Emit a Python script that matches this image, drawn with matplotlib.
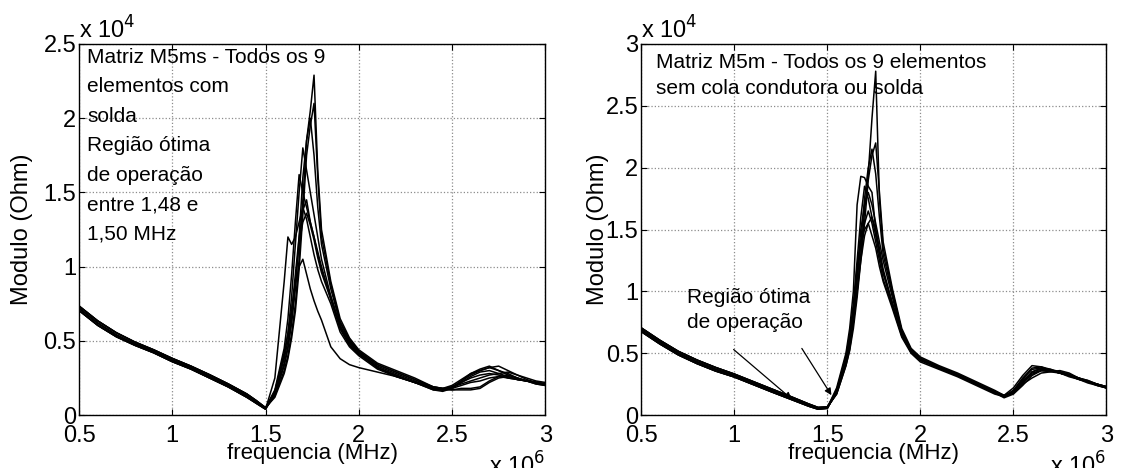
import matplotlib
matplotlib.use("Agg")
import matplotlib.pyplot as plt
from matplotlib.ticker import FuncFormatter
import numpy as np

plt.rcParams['font.family'] = ['Liberation Sans', 'DejaVu Sans']
plt.rcParams['font.size'] = 15

# frequencia (MHz), grade comum a todas as curvas
freq = [0.50, 0.60, 0.70, 0.80, 0.90, 1.00, 1.10, 1.20, 1.30, 1.40, 1.45, 1.50,
        1.55, 1.60, 1.62, 1.64, 1.66, 1.68, 1.70, 1.72, 1.74, 1.76, 1.78, 1.80,
        1.85, 1.90, 1.95, 2.00, 2.10, 2.20, 2.30, 2.40, 2.45, 2.50, 2.55, 2.60,
        2.65, 2.70, 2.75, 2.80, 2.85, 2.90, 2.95, 3.00]

# trecho antes da ressonancia (kOhm), 0.5 a 1.5 MHz
ms_base_a = [7.20, 6.20, 5.40, 4.80, 4.30, 3.70, 3.20, 2.60, 2.00, 1.30, 0.90, 0.45]
ms_base_b = [7.35, 6.35, 5.55, 4.92, 4.40, 3.82, 3.30, 2.72, 2.10, 1.42, 0.98, 0.50]
ms_base_c = [7.05, 6.05, 5.28, 4.70, 4.20, 3.60, 3.10, 2.50, 1.90, 1.20, 0.80, 0.40]
m_base_a = [6.90, 5.90, 5.00, 4.30, 3.70, 3.20, 2.60, 2.00, 1.40, 0.80, 0.55, 0.60]
m_base_b = [7.05, 6.05, 5.15, 4.45, 3.85, 3.32, 2.72, 2.12, 1.52, 0.90, 0.62, 0.66]
m_base_c = [6.75, 5.75, 4.86, 4.16, 3.56, 3.08, 2.48, 1.88, 1.30, 0.72, 0.48, 0.55]

# Matriz M5ms (kOhm), de 1.55 a 3.0 MHz
ms1 = [1.3, 3.0, 4.0, 5.5, 7.5, 10.5, 14.5, 18.5, 20.5, 22.9, 16.5, 12.5, 9.0, 6.5, 5.2, 4.4, 3.5, 3.0, 2.5, 1.9, 1.8, 2.0, 2.4, 2.8, 3.0, 3.2, 3.3, 3.0, 2.7, 2.5, 2.3, 2.2]
ms2 = [1.2, 2.8, 3.8, 5.2, 7.0, 9.8, 13.5, 17.5, 19.5, 21.0, 16.0, 12.0, 8.8, 6.3, 5.1, 4.3, 3.4, 2.9, 2.4, 1.8, 1.7, 1.9, 2.2, 2.5, 2.7, 2.8, 2.7, 2.5, 2.4, 2.3, 2.2, 2.1]
ms3 = [1.4, 3.3, 4.5, 6.2, 8.5, 12.0, 16.0, 18.5, 20.0, 17.5, 14.0, 11.5, 8.5, 6.2, 5.0, 4.3, 3.4, 2.9, 2.4, 1.9, 1.8, 1.9, 2.1, 2.3, 2.5, 2.7, 2.8, 2.9, 2.7, 2.4, 2.2, 2.1]
ms4 = [1.6, 4.0, 5.5, 8.0, 11.5, 15.0, 18.0, 16.5, 15.0, 13.5, 12.0, 10.5, 8.0, 6.0, 4.9, 4.2, 3.3, 2.8, 2.3, 1.8, 1.7, 1.8, 2.3, 2.8, 3.1, 3.3, 3.0, 2.7, 2.5, 2.3, 2.2, 2.1]
ms5 = [1.7, 4.5, 6.5, 9.5, 13.0, 16.2, 15.0, 14.0, 13.0, 12.0, 11.0, 10.0, 7.8, 5.8, 4.7, 4.1, 3.2, 2.7, 2.2, 1.7, 1.6, 1.8, 2.2, 2.6, 2.9, 3.0, 2.8, 2.6, 2.4, 2.3, 2.2, 2.0]
ms6 = [2.5, 9.0, 12.0, 11.5, 12.0, 13.0, 14.0, 13.2, 12.0, 10.8, 9.8, 9.0, 7.5, 5.6, 4.6, 4.0, 3.1, 2.6, 2.2, 1.7, 1.7, 1.9, 2.3, 2.7, 3.0, 3.2, 3.0, 2.8, 2.5, 2.3, 2.1, 2.0]
ms7 = [1.5, 3.8, 5.0, 7.0, 9.5, 12.0, 13.8, 14.5, 13.0, 12.0, 10.8, 9.8, 8.0, 6.0, 4.9, 4.2, 3.2, 2.7, 2.2, 1.8, 1.7, 1.8, 2.0, 2.2, 2.3, 2.5, 2.6, 2.5, 2.4, 2.3, 2.1, 2.0]
ms8 = [1.4, 3.5, 4.6, 6.5, 9.0, 11.5, 13.0, 13.6, 12.8, 11.8, 10.6, 9.6, 7.8, 5.9, 4.8, 4.1, 3.2, 2.6, 2.2, 1.8, 1.7, 1.7, 1.8, 1.8, 1.9, 2.3, 2.6, 2.7, 2.5, 2.3, 2.2, 2.1]
ms9 = [1.6, 4.2, 5.5, 7.2, 8.8, 10.0, 10.5, 9.5, 8.5, 7.7, 7.0, 6.4, 4.6, 3.8, 3.4, 3.2, 2.9, 2.6, 2.2, 1.9, 1.8, 1.7, 1.7, 1.7, 1.8, 2.2, 2.5, 2.6, 2.4, 2.3, 2.2, 2.1]

# Matriz M5m (kOhm), de 1.55 a 3.0 MHz
m1 = [1.8, 4.2, 5.5, 7.5, 10.0, 13.0, 16.5, 19.5, 24.0, 27.8, 17.5, 13.5, 10.0, 6.8, 5.3, 4.6, 3.9, 3.3, 2.6, 1.9, 1.5, 2.0, 2.8, 3.4, 3.6, 3.6, 3.4, 3.2, 3.0, 2.7, 2.5, 2.3]
m2 = [1.7, 4.0, 5.2, 7.0, 9.5, 12.5, 15.5, 19.0, 21.0, 22.0, 18.0, 14.0, 10.2, 7.0, 5.4, 4.7, 4.0, 3.4, 2.7, 2.0, 1.6, 1.9, 2.7, 3.5, 3.8, 3.7, 3.5, 3.3, 3.0, 2.8, 2.5, 2.3]
m3 = [1.9, 4.4, 5.8, 8.0, 11.0, 14.0, 17.5, 20.0, 21.5, 19.5, 16.0, 13.0, 9.8, 6.8, 5.3, 4.6, 3.9, 3.3, 2.6, 1.9, 1.5, 1.8, 2.6, 3.3, 3.6, 3.5, 3.4, 3.2, 3.0, 2.7, 2.5, 2.2]
m4 = [2.2, 5.0, 7.0, 10.0, 17.0, 19.3, 19.2, 18.5, 18.0, 15.0, 13.5, 11.8, 9.0, 6.5, 5.2, 4.5, 3.8, 3.2, 2.5, 1.8, 1.6, 2.2, 3.2, 4.0, 3.9, 3.6, 3.4, 3.1, 2.9, 2.7, 2.4, 2.2]
m5 = [2.0, 4.8, 6.5, 9.0, 12.5, 16.0, 18.5, 17.5, 16.0, 14.5, 13.0, 11.5, 9.0, 6.5, 5.1, 4.5, 3.8, 3.2, 2.5, 1.8, 1.5, 2.0, 3.0, 3.8, 3.9, 3.7, 3.4, 3.2, 2.9, 2.7, 2.5, 2.2]
m6 = [1.9, 4.5, 6.0, 8.5, 11.5, 15.0, 17.0, 18.0, 17.0, 15.5, 14.0, 12.5, 9.5, 6.6, 5.2, 4.5, 3.9, 3.3, 2.6, 1.9, 1.6, 1.8, 2.5, 3.0, 3.4, 3.5, 3.6, 3.4, 3.0, 2.8, 2.5, 2.3]
m7 = [1.8, 4.3, 5.8, 8.0, 11.0, 14.0, 15.5, 16.5, 15.5, 14.0, 12.5, 11.0, 8.8, 6.4, 5.1, 4.4, 3.8, 3.2, 2.5, 1.8, 1.5, 1.8, 2.6, 3.5, 3.7, 3.6, 3.4, 3.2, 2.9, 2.7, 2.4, 2.2]
m8 = [1.7, 4.0, 5.3, 7.5, 10.0, 12.5, 14.5, 15.5, 16.0, 15.0, 13.0, 11.5, 9.0, 6.5, 5.1, 4.5, 3.8, 3.2, 2.5, 1.8, 1.4, 1.7, 2.4, 3.2, 3.6, 3.6, 3.5, 3.3, 3.0, 2.7, 2.5, 2.3]
m9 = [2.0, 4.6, 6.2, 8.5, 12.0, 14.0, 15.0, 15.5, 14.5, 13.5, 12.0, 10.8, 8.6, 6.3, 5.0, 4.3, 3.7, 3.1, 2.4, 1.7, 1.5, 1.9, 2.9, 3.7, 3.8, 3.6, 3.4, 3.2, 2.9, 2.6, 2.4, 2.2]

curvas_ms = [(ms_base_a, ms1), (ms_base_b, ms2), (ms_base_c, ms3), (ms_base_a, ms4), (ms_base_b, ms5),
             (ms_base_c, ms6), (ms_base_a, ms7), (ms_base_b, ms8), (ms_base_c, ms9)]
curvas_m = [(m_base_a, m1), (m_base_b, m2), (m_base_c, m3), (m_base_a, m4), (m_base_b, m5),
            (m_base_c, m6), (m_base_a, m7), (m_base_b, m8), (m_base_c, m9)]

fig = plt.figure(figsize=(11.29, 4.68), dpi=100)
ax1 = fig.add_axes([0.070, 0.113, 0.413, 0.793])
ax2 = fig.add_axes([0.568, 0.113, 0.412, 0.793])

f_hz = np.array(freq) * 1e6

for ax, curvas, ymax in [(ax1, curvas_ms, 2.5e4), (ax2, curvas_m, 3e4)]:
    for base, c in curvas:
        y = np.array(base + c) * 1e3
        ax.plot(f_hz, y, color='black', linewidth=1.1)
    ax.set_xlim(0.5e6, 3e6)
    ax.set_ylim(0, ymax)
    ax.set_xticks(np.arange(0.5e6, 3.01e6, 0.5e6))
    ax.set_yticks(np.arange(0, ymax + 1, 0.5e4))
    ax.xaxis.set_major_formatter(FuncFormatter(lambda v, p: '%g' % (v / 1e6)))
    ax.yaxis.set_major_formatter(FuncFormatter(lambda v, p: '%g' % (v / 1e4)))
    ax.grid(True, linestyle=':', color='0.55', linewidth=0.9)
    ax.tick_params(direction='in', top=True, right=True, length=4, labelsize=17)
    ax.tick_params(axis='y', pad=2)
    ax.tick_params(axis='x', pad=7)
    ax.set_xlabel('frequencia (MHz)', fontsize=16)
    ax.xaxis.set_label_coords(0.5, -0.075)
    ax.text(0.0, 1.0, 'x 10$^4$', transform=ax.transAxes, ha='left', va='bottom', fontsize=17)
    for s in ax.spines.values():
        s.set_linewidth(1.0)

ax1.set_ylabel('Modulo (Ohm)', fontsize=17)
ax1.yaxis.set_label_coords(-0.098, 0.5)
ax2.set_ylabel('Modulo (Ohm)', fontsize=17)
ax2.yaxis.set_label_coords(-0.069, 0.5)

ax1.text(0.544e6, 2.475e4,
         'Matriz M5ms - Todos os 9\nelementos com\nsolda\nRegião ótima\nde operação\nentre 1,48 e\n1,50 MHz',
         ha='left', va='top', linespacing=1.7)
ax2.text(0.577e6, 2.93e4, 'Matriz M5m - Todos os 9 elementos\nsem cola condutora ou solda',
         ha='left', va='top', linespacing=1.5)
ax2.text(0.745e6, 1.03e4, 'Região ótima\nde operação', ha='left', va='top', linespacing=1.45)
ax2.annotate('', xy=(1.32e6, 0.115e4), xytext=(0.985e6, 0.545e4),
             arrowprops=dict(arrowstyle='-|>', color='black', lw=0.9, mutation_scale=10))
ax2.annotate('', xy=(1.53e6, 0.142e4), xytext=(1.355e6, 0.558e4),
             arrowprops=dict(arrowstyle='-|>', color='black', lw=0.9, mutation_scale=10))

fig.text(0.483, -0.014, 'x 10$^6$', ha='right', va='baseline', fontsize=17)
fig.text(0.980, -0.014, 'x 10$^6$', ha='right', va='baseline', fontsize=17)

fig.savefig('out.png', dpi=100)
